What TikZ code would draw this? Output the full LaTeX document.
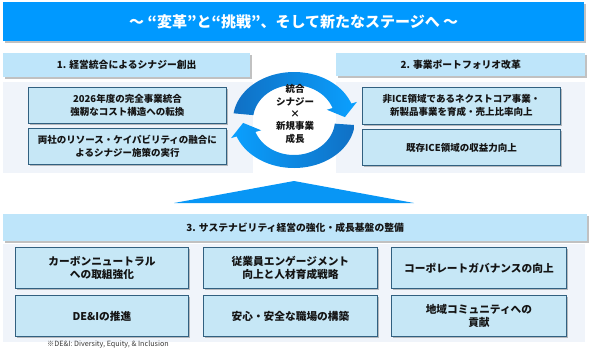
\documentclass[tikz,border=0pt]{standalone}
\usepackage{fontspec}
\setmainfont{Noto Sans CJK JP}
\usetikzlibrary{shadows}
\definecolor{titleblue}{RGB}{0,153,255}
\definecolor{hdrfill}{RGB}{190,229,250}
\definecolor{panelfill}{RGB}{240,244,250}
\definecolor{boxfill}{RGB}{198,231,246}
\definecolor{boxline}{RGB}{49,96,128}
\definecolor{arcdark}{RGB}{16,112,196}
\definecolor{arclight}{RGB}{10,160,255}
\definecolor{tri}{RGB}{8,150,245}
\definecolor{txt}{RGB}{20,20,20}
\begin{document}
\begin{tikzpicture}[x=1pt,y=-1pt,
  shad/.style={drop shadow={shadow xshift=1.5pt,shadow yshift=-1.5pt,opacity=0.35,fill=black!70}},
  titlebar/.style={shad,fill=titleblue,anchor=north west,inner sep=0pt,text=white,
    font=\bfseries\fontsize{15}{17}\selectfont},
  hdr/.style={shad,fill=hdrfill,anchor=north west,inner sep=0pt,text=txt,
    font=\bfseries\fontsize{9.8}{12}\selectfont},
  panel/.style={fill=panelfill,anchor=north west,inner sep=0pt},
  box/.style={shad,fill=boxfill,draw=boxline,line width=0.9pt,anchor=north west,inner sep=0pt,
    align=center,text=txt,font=\bfseries\fontsize{9.5}{13}\selectfont},
  bbox/.style={box,font=\bfseries\fontsize{10.7}{13}\selectfont}
]
\useasboundingbox (0,0) rectangle (589,354);

% title
\node[titlebar,minimum width=581pt,minimum height=39pt] (title) at (3,2) {～ “変革”と“挑戦”、そして新たなステージへ ～};

% section headers
\node[hdr,minimum width=247pt,minimum height=24pt] (h1) at (3,53) {1. 経営統合によるシナジー創出};
\node[hdr,minimum width=249pt,minimum height=23pt] (h2) at (336,53) {2. 事業ポートフォリオ改革};

% panels
\node[panel,minimum width=250pt,minimum height=91pt] (pL) at (3,82) {};
\node[panel,minimum width=249pt,minimum height=91pt] (pR) at (336,82) {};

% boxes section 1
\node[box,minimum width=198pt,minimum height=36pt] (b1) at (28,87) {2026年度の完全事業統合\\強靭なコスト構造への転換};
\node[box,minimum width=198pt,minimum height=36pt] (b2) at (28,128) {両社のリソース・ケイパビリティの融合に\\よるシナジー施策の実行};
% boxes section 2
\node[box,minimum width=198pt,minimum height=37pt] (b3) at (362,87) {非ICE領域であるネクストコア事業・\\新製品事業を育成・売上比率向上};
\node[box,minimum width=198pt,minimum height=36pt] (b4) at (362,129) {既存ICE領域の収益力向上};

% circular arrows
\shade[left color=arcdark,right color=arclight]
  plot[domain=172:20,samples=60] ({294+61*cos(\x)},{120-48*sin(\x)})
  -- ({294+67*cos(20)},{120-53*sin(20)})
  -- ({294+51*cos(4)},{120-41.5*sin(4)})
  -- ({294+35*cos(20)},{120-30*sin(20)})
  -- plot[domain=20:172,samples=60] ({294+41*cos(\x)},{120-35*sin(\x)})
  -- cycle;
\shade[left color=arclight,right color=arcdark]
  plot[domain=-6:-160,samples=60] ({294+61*cos(\x)},{120-48*sin(\x)})
  -- ({294+67*cos(-160)},{120-53*sin(-160)})
  -- ({294+51*cos(-176)},{120-41.5*sin(-176)})
  -- ({294+35*cos(-160)},{120-30*sin(-160)})
  -- plot[domain=-160:-6,samples=60] ({294+41*cos(\x)},{120-35*sin(\x)})
  -- cycle;
\node[align=center,text=txt,font=\bfseries\fontsize{9.5}{12.3}\selectfont] (core) at (295,114)
  {統合\\シナジー\\×\\新規事業\\成長};

% triangle
\fill[tri] (294,181) -- (414,203) -- (174,203) -- cycle;

% section 3
\node[hdr,minimum width=584pt,minimum height=27pt] (h3) at (3,214) {3. サステナビリティ経営の強化・成長基盤の整備};
\node[panel,minimum width=582pt,minimum height=98pt] (pB) at (3,244) {};

\node[bbox,minimum width=173pt,minimum height=41pt] (c1) at (15,247) {カーボンニュートラル\\への取組強化};
\node[bbox,minimum width=174pt,minimum height=41pt] (c2) at (203,247) {従業員エンゲージメント\\向上と人材育成戦略};
\node[bbox,minimum width=175pt,minimum height=41pt] (c3) at (391,247) {コーポレートガバナンスの向上};
\node[bbox,minimum width=173pt,minimum height=41pt] (c4) at (15,295) {DE\&Iの推進};
\node[bbox,minimum width=174pt,minimum height=41pt] (c5) at (203,295) {安心・安全な職場の構築};
\node[bbox,minimum width=175pt,minimum height=41pt] (c6) at (391,295) {地域コミュニティへの\\貢献};

\node[text=txt!85,font=\fontsize{7.2}{8.5}\selectfont] (note) at (108,344) {※DE\&I: Diversity, Equity, \& Inclusion};
\end{tikzpicture}
\end{document}
